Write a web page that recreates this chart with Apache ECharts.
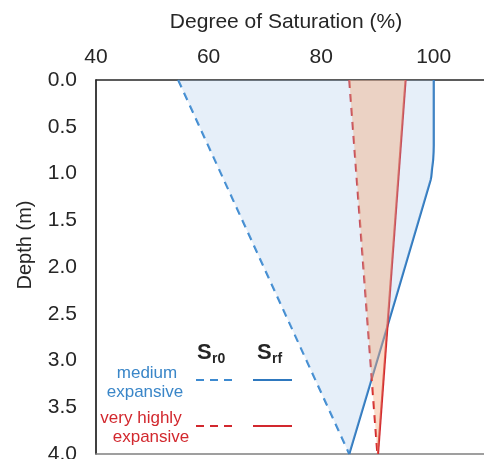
<!DOCTYPE html>
<html><head><meta charset="utf-8">
<script src="https://cdn.jsdelivr.net/npm/echarts@6/dist/echarts.min.js"></script>
<style>html,body{margin:0;padding:0;background:#fff}#c{width:484px;height:459px}</style>
</head><body><div id="c"></div>
<script>
// Data (depth in m, degree of saturation in %)
const xTicks = [40, 60, 80, 100];
const depthMedSr0 = [0, 4];
const medSr0 = [54.6, 85.0];
const depthMedSrf = [0, 0.7, 0.85, 0.95, 1.07, 4];
const medSrf = [100, 100, 99.9, 99.7, 99.45, 85.0];
const depthVhSr0 = [0, 4];
const vhSr0 = [85.0, 90.0];
const depthVhSrf = [0, 4];
const vhSrf = [95.0, 90.1];

const FONT = 'Liberation Sans, Arial, sans-serif';
const BLUE = '#2E78BE';
const BLUE_D = '#3D8AD0';
const RED = '#D2282E';

function pairs(xs, ds) { return xs.map((v, i) => [v, ds[i]]); }

function polyItem(xsA, dsA, xsB, dsB, fill) {
  return function (params, api) {
    const pts = [];
    for (let i = 0; i < xsA.length; i++) pts.push(api.coord([xsA[i], dsA[i]]));
    for (let i = xsB.length - 1; i >= 0; i--) pts.push(api.coord([xsB[i], dsB[i]]));
    return { type: 'polygon', shape: { points: pts }, style: { fill: fill }, silent: true };
  };
}

const chart = echarts.init(document.getElementById('c'), null, { renderer: 'canvas' });
chart.setOption({
  animation: false,
  grid: { left: 96, top: 80, width: 394, height: 374, containLabel: false, outerBoundsMode: 'none' },
  xAxis: [{
    type: 'value', position: 'top', min: 40, max: 110, interval: 20,
    axisLine: { show: true, onZero: false, lineStyle: { color: '#262626', width: 1.5 } },
    axisTick: { show: false }, splitLine: { show: false },
    axisLabel: { showMaxLabel: false, fontFamily: FONT, fontSize: 21, color: '#262626', margin: 12 }
  }, {
    type: 'value', position: 'bottom', min: 40, max: 110,
    axisLine: { show: true, onZero: false, lineStyle: { color: '#808080', width: 1.5 } },
    axisTick: { show: false }, splitLine: { show: false }, axisLabel: { show: false }
  }],
  yAxis: {
    type: 'value', inverse: true, min: 0, max: 4, interval: 0.5,
    axisLine: { show: true, onZero: false, lineStyle: { color: '#000', width: 1.5 } },
    axisTick: { show: false }, splitLine: { show: false },
    axisLabel: { fontFamily: FONT, fontSize: 21, color: '#262626', margin: 19,
      formatter: v => v.toFixed(1) }
  },
  series: [
    { type: 'line', data: pairs(medSr0, depthMedSr0), symbol: 'none', z: 2,
      lineStyle: { color: BLUE_D, width: 2.2, type: [8, 6] } },
    { type: 'line', data: pairs(medSrf, depthMedSrf), symbol: 'none', z: 2, smooth: 0.3,
      lineStyle: { color: BLUE, width: 2.2 } },
    { type: 'line', data: pairs(vhSr0, depthVhSr0), symbol: 'none', z: 2,
      lineStyle: { color: RED, width: 2.2, type: [8, 6] } },
    { type: 'line', data: pairs(vhSrf, depthVhSrf), symbol: 'none', z: 2,
      lineStyle: { color: RED, width: 2.2 } },
    { type: 'custom', data: [0], z: 3, clip: true,
      renderItem: polyItem(medSr0, depthMedSr0, medSrf, depthMedSrf, 'rgba(157,195,230,0.26)') },
    { type: 'custom', data: [0], z: 4, clip: true,
      renderItem: polyItem(vhSr0, depthVhSr0, vhSrf, depthVhSrf, 'rgba(244,170,125,0.42)') }
  ],
  graphic: [
    { type: 'text', style: { text: 'Degree of Saturation (%)', x: 286, y: 22,
      align: 'center', verticalAlign: 'middle', font: '21px ' + FONT, fill: '#262626' } },
    { type: 'text', rotation: Math.PI / 2, x: 25, y: 245, style: { text: 'Depth (m)', x: 0, y: 0,
      align: 'center', verticalAlign: 'middle', font: '20px ' + FONT, fill: '#262626' } },
    { type: 'text', style: { text: 'S', x: 197, y: 353, verticalAlign: 'middle', font: 'bold 22px ' + FONT, fill: '#262626' } },
    { type: 'text', style: { text: 'r0', x: 212, y: 359, verticalAlign: 'middle', font: 'bold 14px ' + FONT, fill: '#262626' } },
    { type: 'text', style: { text: 'S', x: 257, y: 353, verticalAlign: 'middle', font: 'bold 22px ' + FONT, fill: '#262626' } },
    { type: 'text', style: { text: 'rf', x: 272, y: 359, verticalAlign: 'middle', font: 'bold 14px ' + FONT, fill: '#262626' } },
    { type: 'text', style: { text: 'medium', x: 147, y: 373, align: 'center', verticalAlign: 'middle', font: '17px ' + FONT, fill: '#3A86C8' } },
    { type: 'text', style: { text: 'expansive', x: 145, y: 392, align: 'center', verticalAlign: 'middle', font: '17px ' + FONT, fill: '#3A86C8' } },
    { type: 'text', style: { text: 'very highly', x: 141, y: 418, align: 'center', verticalAlign: 'middle', font: '17px ' + FONT, fill: '#D2282E' } },
    { type: 'text', style: { text: 'expansive', x: 151, y: 437, align: 'center', verticalAlign: 'middle', font: '17px ' + FONT, fill: '#D2282E' } },
    { type: 'line', shape: { x1: 196, y1: 380, x2: 235, y2: 380 }, style: { stroke: BLUE_D, lineWidth: 2.2, lineDash: [8, 6] } },
    { type: 'line', shape: { x1: 253, y1: 380, x2: 292, y2: 380 }, style: { stroke: BLUE, lineWidth: 2.2 } },
    { type: 'line', shape: { x1: 196, y1: 426, x2: 235, y2: 426 }, style: { stroke: RED, lineWidth: 2.2, lineDash: [8, 6] } },
    { type: 'line', shape: { x1: 253, y1: 426, x2: 292, y2: 426 }, style: { stroke: RED, lineWidth: 2.2 } }
  ]
});
</script></body></html>
